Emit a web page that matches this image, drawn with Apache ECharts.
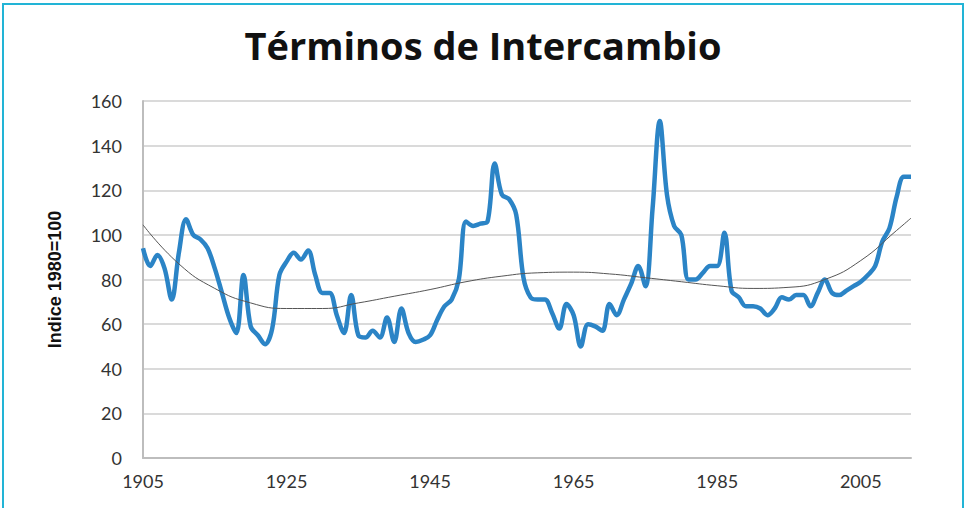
<!DOCTYPE html>
<html>
<head>
<meta charset="utf-8">
<script src="https://cdn.jsdelivr.net/npm/echarts@6/dist/echarts.min.js"></script>
<style>
  html, body { margin: 0; padding: 0; background: #fff; overflow: hidden; }
  #chart { position: absolute; left: 0; top: 0; width: 966px; height: 508px; }
  #frame { position: absolute; left: 2px; top: 3px; width: 958px; height: 540px;
           border: 2px solid #22b4d6; pointer-events: none; }
</style>
</head>
<body>
<div id="chart"></div>
<div id="frame"></div>
<script>
(function() {
  // Índice de términos de intercambio, 1905-2012 (1980 = 100)
  var firstYear = 1905;
  var values = [
    94, 86, 91, 85, 71, 92, 107, 100, 98, 94,      // 1905-1914
    85, 74, 63, 56, 82, 59, 55, 51, 58, 82,        // 1915-1924
    88, 92, 89, 93, 82, 74, 74, 64, 56, 73,        // 1925-1934
    55, 54, 57, 54, 63, 52, 67, 56, 52, 53,        // 1935-1944
    55, 62, 68, 71, 80, 106, 104, 105, 106, 132,   // 1945-1954
    118, 116, 109, 81, 72, 71, 71, 65, 58, 69,     // 1955-1964
    64, 50, 60, 59, 57, 69, 64, 71, 78, 86,        // 1965-1974
    77, 112, 151, 118, 104, 100, 80, 80, 83, 86,   // 1975-1984
    86, 101, 75, 72, 68, 68, 67, 64, 67, 72,       // 1985-1994
    71, 73, 73, 68, 74, 80, 74, 73, 75, 77,        // 1995-2004
    79, 82, 86, 97, 103, 117, 126, 126             // 2005-2012
  ];
  // línea de tendencia (polinómica), leída cada 5 años
  var trendYears = ['1905', '1910', '1915', '1920', '1925', '1930', '1935', '1940', '1945', '1950', '1955', '1960',
                    '1965', '1970', '1975', '1980', '1985', '1990', '1995', '2000', '2005', '2010', '2012'];
  var trendValues = [104.5, 87, 76, 69.5, 67, 67, 69.5, 72.5, 75.5, 79, 81.5, 83,
                     83.3, 82.5, 80.8, 79, 77.2, 76, 76.5, 80, 88.5, 102, 107.5];
  var yTicks = [0, 20, 40, 60, 80, 100, 120, 140, 160];

  var years = [];
  for (var i = 0; i < values.length; i++) years.push(String(firstYear + i));
  var trend = trendYears.map(function(y, k) { return [y, trendValues[k]]; });

  var chart = echarts.init(document.getElementById('chart'), null, { renderer: 'svg' });
  chart.setOption({
    animation: false,
    title: {
      text: 'Términos de Intercambio',
      left: 'center',
      top: 21,
      textStyle: { fontFamily: 'Open Sans', fontWeight: 'bold', fontSize: 38, color: '#111' }
    },
    grid: { left: 143, right: 55, top: 101, bottom: 50 },
    xAxis: {
      type: 'category',
      data: years,
      boundaryGap: false,
      axisLine: { lineStyle: { color: '#bdbdbd', width: 2 } },
      axisTick: { show: false },
      axisLabel: { interval: 19, color: '#333', fontFamily: 'Lato', fontSize: 18, margin: 14 },
      splitLine: { show: false }
    },
    yAxis: {
      type: 'value',
      min: yTicks[0],
      max: yTicks[yTicks.length - 1],
      interval: 20,
      name: 'Indice 1980=100',
      nameLocation: 'middle',
      nameGap: 79,
      nameTextStyle: { fontFamily: 'Liberation Sans', fontWeight: 'bold', fontSize: 18, color: '#111' },
      axisLine: { show: true, lineStyle: { color: '#bdbdbd', width: 2 } },
      axisTick: { show: false },
      axisLabel: { color: '#333', fontFamily: 'Lato', fontSize: 18, margin: 21 },
      splitLine: { lineStyle: { color: '#dadada', width: 2 } }
    },
    series: [{
      type: 'line',
      data: values,
      smooth: 0.35,
      symbol: 'none',
      lineStyle: { color: '#2b84c6', width: 4.5 },
      z: 2
    }, {
      type: 'line',
      data: trend,
      smooth: true,
      symbol: 'none',
      lineStyle: { color: '#555', width: 1 },
      z: 3
    }]
  });
  window.addEventListener('resize', function() { chart.resize(); });
})();
</script>
</body>
</html>
